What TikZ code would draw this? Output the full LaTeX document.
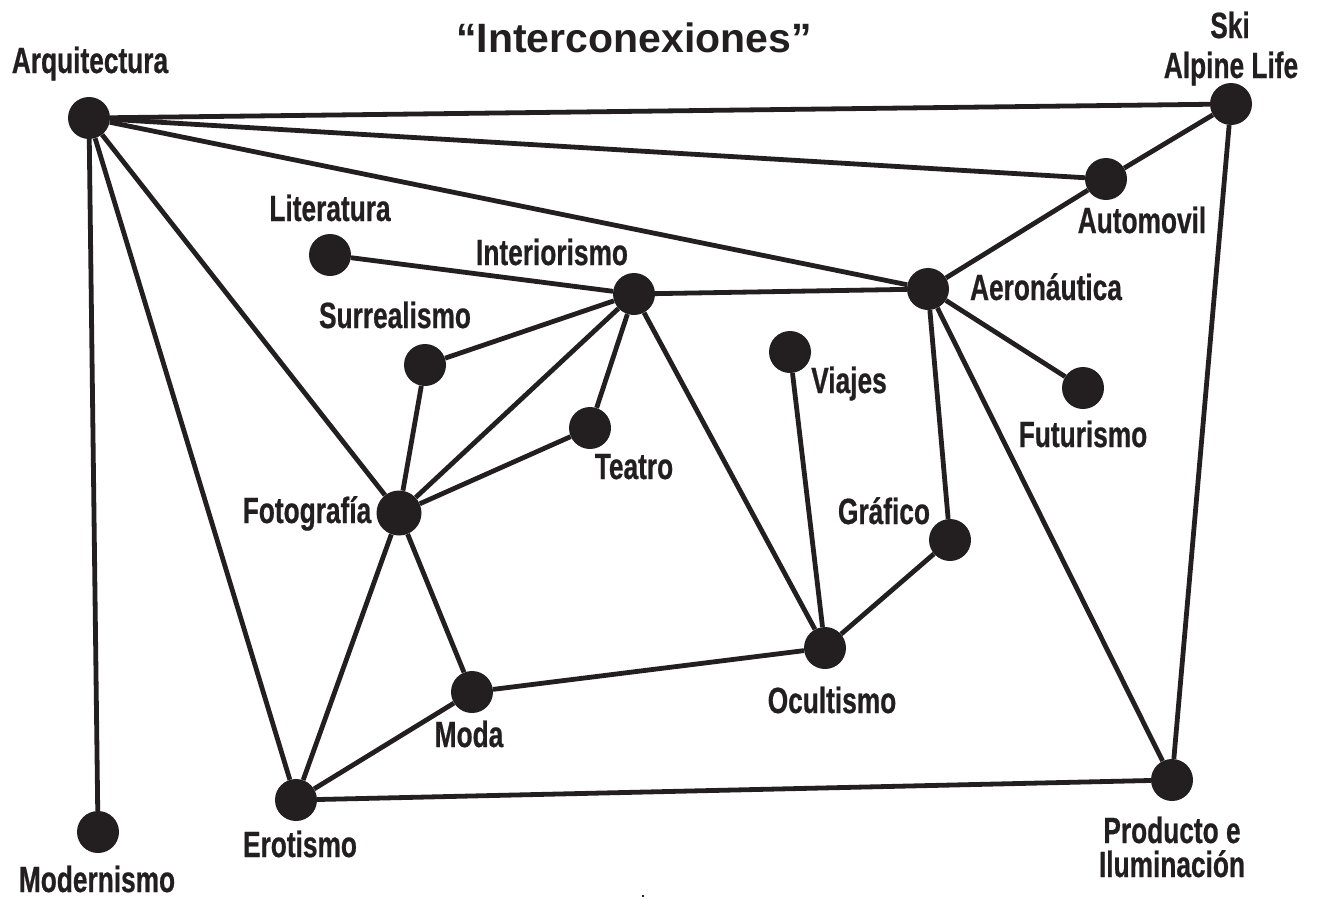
\documentclass[tikz,border=0pt]{standalone}
\usepackage{fontspec}
\setmainfont{Liberation Sans}
\newfontfamily\condfont{Liberation Sans}[FakeStretch=0.72,FakeBold=0.6]
\definecolor{ink}{HTML}{231F20}
\begin{document}
\begin{tikzpicture}[x=1pt,y=-1pt,
  dot/.style={circle,fill=ink,draw=none,minimum size=42pt,inner sep=0pt},
  bigdot/.style={dot,minimum size=45pt},
  lbl/.style={anchor=base,inner sep=0pt,text=ink,font=\condfont\fontsize{36.5}{36.5}\selectfont\bfseries},
  link/.style={draw=ink,line width=4.8pt},
  ttl/.style={anchor=base,inner sep=0pt,text=ink,font=\fontsize{41}{41}\selectfont\bfseries}]
\useasboundingbox[fill=white] (0,0) rectangle (1318,900);
% nodes
\node[dot] (arq) at (89,118) {};
\node[dot] (ski) at (1231,104) {};
\node[dot] (auto) at (1106,179) {};
\node[dot] (aero) at (928,289) {};
\node[dot] (lit) at (330,255) {};
\node[dot] (int) at (634,294) {};
\node[dot] (sur) at (425,365) {};
\node[dot] (via) at (790,352) {};
\node[dot] (fut) at (1083,388) {};
\node[dot] (tea) at (590,428) {};
\node[bigdot] (foto) at (399,513) {};
\node[dot] (gra) at (950,540) {};
\node[dot] (ocu) at (825,648) {};
\node[dot] (moda) at (472,692) {};
\node[dot] (ero) at (296,800) {};
\node[dot] (mod) at (98,832) {};
\node[dot] (prod) at (1172,780) {};
% edges
\path[link] (arq) -- (ski);
\path[link] (arq) -- (auto);
\path[link] (arq) -- (aero);
\path[link] (arq) -- (foto);
\path[link] (arq) -- (ero);
\path[link] (arq) -- (mod);
\path[link] (ski) -- (auto);
\path[link] (ski) -- (prod);
\path[link] (auto) -- (aero);
\path[link] (lit) -- (int);
\path[link] (int) -- (aero);
\path[link] (int) -- (sur);
\path[link] (int) -- (foto);
\path[link] (int) -- (tea);
\path[link] (int) -- (ocu);
\path[link] (sur) -- (foto);
\path[link] (tea) -- (foto);
\path[link] (foto) -- (moda);
\path[link] (foto) -- (ero);
\path[link] (moda) -- (ero);
\path[link] (moda) -- (ocu);
\path[link] (via) -- (ocu);
\path[link] (ocu) -- (gra);
\path[link] (gra) -- (aero);
\path[link] (aero) -- (fut);
\path[link] (aero) -- (prod);
\path[link] (ero) -- (prod);
% labels
\node[ttl] (title) at (634,52) {“Interconexiones”};
\node[lbl] (larq) at (90,73) {Arquitectura};
\node[lbl] (lski) at (1230,38) {Ski};
\node[lbl] (lski2) at (1231,78) {Alpine Life};
\node[lbl] (lauto) at (1142,233) {Automovil};
\node[lbl] (llit) at (330,221) {Literatura};
\node[lbl] (lint) at (552,265) {Interiorismo};
\node[lbl] (laero) at (1046,300) {Aeronáutica};
\node[lbl] (lsur) at (395,328) {Surrealismo};
\node[lbl] (lvia) at (849,393) {Viajes};
\node[lbl] (lfut) at (1083,447) {Futurismo};
\node[lbl] (ltea) at (634,479) {Teatro};
\node[lbl] (lfoto) at (307,523) {Fotografía};
\node[lbl] (lgra) at (884,524) {Gráfico};
\node[lbl] (locu) at (832,713) {Ocultismo};
\node[lbl] (lmoda) at (469,747) {Moda};
\node[lbl] (lero) at (300,857) {Erotismo};
\node[lbl] (lmod) at (97,892) {Modernismo};
\node[lbl] (lprod) at (1172,843) {Producto e};
\node[lbl] (lprod2) at (1172,877) {Iluminación};
\node[fill=ink,inner sep=0pt,minimum size=2pt] (speck) at (643,896) {};
\end{tikzpicture}
\end{document}
